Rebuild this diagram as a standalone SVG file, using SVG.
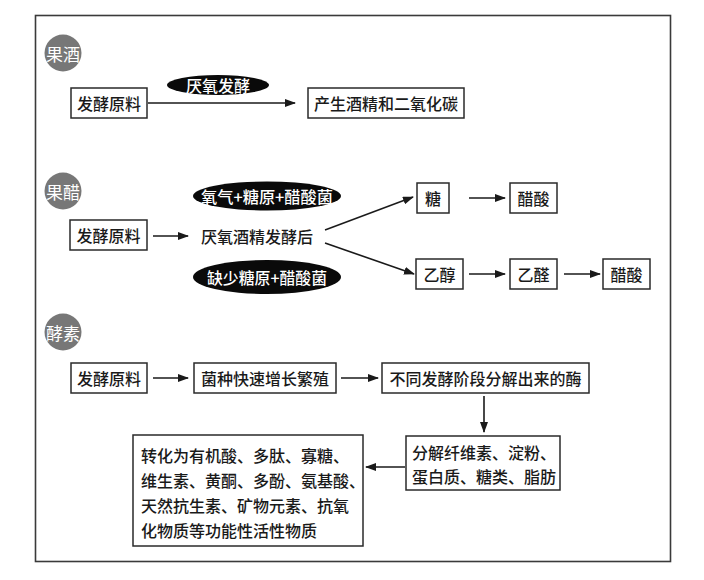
<svg xmlns="http://www.w3.org/2000/svg" width="704" height="580" viewBox="0 0 704 580">
<defs>
<style>
text{font-family:"Noto Sans CJK SC","Noto Sans",sans-serif;font-size:16px;font-weight:500;fill:#1a1a1a;dominant-baseline:central}
.box{fill:#fff;stroke:#2a2a2a;stroke-width:1.5}
.badge{fill:#777}
.bt{fill:#fff;font-size:17px;text-anchor:middle;font-weight:400}
.pill{fill:#0a0a0a}
.pt{fill:#fff;text-anchor:middle}
.c{text-anchor:middle}
.ln{stroke:#1a1a1a;stroke-width:1.6;fill:none;marker-end:url(#ah)}
</style>
<marker id="ah" viewBox="0 0 11 8" refX="10" refY="4" markerWidth="11" markerHeight="8" markerUnits="userSpaceOnUse" orient="auto">
<path d="M0,0 L11,4 L0,8 z" fill="#1a1a1a"/>
</marker>
</defs>
<rect width="704" height="580" fill="#fff"/>
<rect x="35.5" y="15.5" width="635" height="546" fill="#fff" stroke="#3a3a3a" stroke-width="1.6"/>

<g id="badge-guojiu"><circle class="badge" cx="63" cy="53" r="18.5"/><text class="bt" x="63" y="53">果酒</text></g>
<g id="badge-guocu"><circle class="badge" cx="63" cy="191" r="18.5"/><text class="bt" x="63" y="191">果醋</text></g>
<g id="badge-jiaosu"><circle class="badge" cx="63" cy="332" r="18.5"/><text class="bt" x="63" y="332">酵素</text></g>

<g id="connectors">
<line class="ln" x1="148" y1="103" x2="295" y2="103"/>
<line class="ln" x1="153" y1="236" x2="188" y2="236"/>
<line class="ln" x1="325" y1="230" x2="413" y2="197"/>
<line class="ln" x1="325" y1="243" x2="414" y2="274"/>
<line class="ln" x1="469" y1="198" x2="505" y2="198"/>
<line class="ln" x1="469" y1="274" x2="505" y2="274"/>
<line class="ln" x1="564" y1="274" x2="600" y2="274"/>
<line class="ln" x1="153" y1="378" x2="188" y2="378"/>
<line class="ln" x1="341" y1="378" x2="378" y2="378"/>
<line class="ln" x1="484" y1="396" x2="484" y2="432"/>
<line class="ln" x1="405" y1="467" x2="366" y2="467"/>
</g>

<g id="label-yanyang"><ellipse class="pill" cx="218" cy="85" rx="51" ry="10"/><text class="pt" x="218" y="85" font-size="16.5">厌氧发酵</text></g>
<g id="label-yangqi"><ellipse class="pill" cx="267" cy="196" rx="74" ry="14.5"/><text class="pt" x="267" y="196" textLength="132" lengthAdjust="spacingAndGlyphs">氧气+糖原+醋酸菌</text></g>
<g id="label-queshao"><ellipse class="pill" cx="267" cy="277" rx="74" ry="17"/><text class="pt" x="267" y="277" textLength="120" lengthAdjust="spacingAndGlyphs">缺少糖原+醋酸菌</text></g>

<g id="n1-raw"><rect class="box" x="71" y="88" width="76" height="30"/><text class="c" x="109" y="103">发酵原料</text></g>
<g id="n1-out"><rect class="box" x="308" y="88" width="156" height="30"/><text class="c" x="386" y="103">产生酒精和二氧化碳</text></g>

<g id="n2-raw"><rect class="box" x="70" y="220" width="77" height="30"/><text class="c" x="108.5" y="235">发酵原料</text></g>
<g id="n2-after"><text class="c" x="257" y="236">厌氧酒精发酵后</text></g>
<g id="n2-tang"><rect class="box" x="417" y="183" width="32" height="30"/><text class="c" x="433" y="198">糖</text></g>
<g id="n2-cusuan1"><rect class="box" x="510" y="183" width="47" height="30"/><text class="c" x="533.5" y="198">醋酸</text></g>
<g id="n2-yichun"><rect class="box" x="416" y="259" width="47" height="30"/><text class="c" x="439.5" y="274">乙醇</text></g>
<g id="n2-yiquan"><rect class="box" x="510" y="259" width="47" height="30"/><text class="c" x="533.5" y="274">乙醛</text></g>
<g id="n2-cusuan2"><rect class="box" x="603" y="259" width="47" height="30"/><text class="c" x="626.5" y="274">醋酸</text></g>

<g id="n3-raw"><rect class="box" x="71" y="363" width="76" height="30"/><text class="c" x="109" y="378">发酵原料</text></g>
<g id="n3-jun"><rect class="box" x="194" y="363" width="142" height="30"/><text class="c" x="265" y="378">菌种快速增长繁殖</text></g>
<g id="n3-mei"><rect class="box" x="382" y="363" width="207" height="30"/><text class="c" x="485.5" y="378" font-size="17">不同发酵阶段分解出来的酶</text></g>
<g id="n3-fenjie"><rect class="box" x="406" y="436" width="154" height="54"/><text x="412" y="452" font-size="15.5">分解纤维素、淀粉、</text><text x="412" y="476" font-size="15.5">蛋白质、糖类、脂肪</text></g>
<g id="n3-zhuanhua"><rect class="box" x="133" y="435" width="230" height="111"/>
<text x="141" y="455" font-size="15.5">转化为有机酸、多肽、寡糖、</text>
<text x="141" y="480" font-size="15.5">维生素、黄酮、多酚、氨基酸、</text>
<text x="141" y="505" font-size="15.5">天然抗生素、矿物元素、抗氧</text>
<text x="141" y="530" font-size="15.5">化物质等功能性活性物质</text>
</g>
</svg>
